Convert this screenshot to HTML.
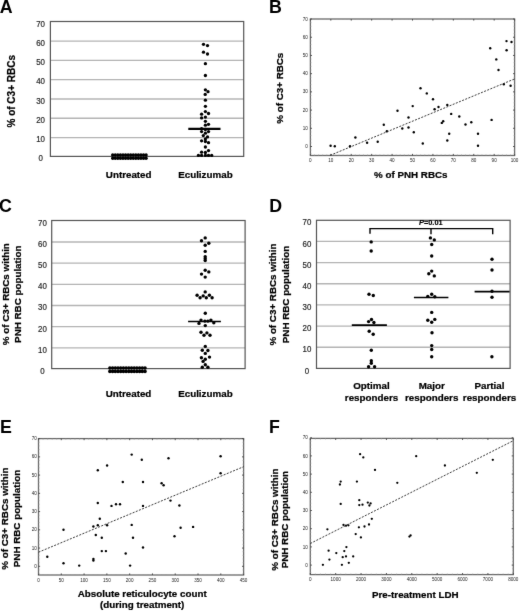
<!DOCTYPE html>
<html><head><meta charset="utf-8"><style>
html,body{margin:0;padding:0;background:#fff;}
body{width:520px;height:611px;overflow:hidden;}
svg{display:block;font-family:"Liberation Sans", sans-serif;will-change:transform;}
</style></head><body>
<svg width="520" height="611" viewBox="0 0 520 611">
<defs><filter id="soft" filterUnits="userSpaceOnUse" x="0" y="0" width="520" height="611" color-interpolation-filters="sRGB"><feConvolveMatrix order="3" kernelMatrix="0.00524 0.06192 0.00524 0.06192 0.73137 0.06192 0.00524 0.06192 0.00524" edgeMode="duplicate"/></filter></defs>
<rect width="520" height="611" fill="#fff"/>
<g filter="url(#soft)">
<rect width="520" height="611" fill="#fff"/>
<text x="-0.30" y="12.70" font-size="17.8" text-anchor="start" font-weight="bold" fill="#000" >A</text>
<text x="269.10" y="12.80" font-size="17.8" text-anchor="start" font-weight="bold" fill="#000" >B</text>
<text x="-1.10" y="212.10" font-size="17.8" text-anchor="start" font-weight="bold" fill="#000" >C</text>
<text x="269.30" y="211.50" font-size="17.8" text-anchor="start" font-weight="bold" fill="#000" >D</text>
<text x="0.00" y="432.60" font-size="17.8" text-anchor="start" font-weight="bold" fill="#000" >E</text>
<text x="268.90" y="432.80" font-size="17.8" text-anchor="start" font-weight="bold" fill="#000" >F</text>
<line x1="50.40" y1="137.53" x2="243.70" y2="137.53" stroke="#b4b4b4" stroke-width="1.3" />
<line x1="50.40" y1="118.26" x2="243.70" y2="118.26" stroke="#b4b4b4" stroke-width="1.3" />
<line x1="50.40" y1="98.99" x2="243.70" y2="98.99" stroke="#b4b4b4" stroke-width="1.3" />
<line x1="50.40" y1="79.71" x2="243.70" y2="79.71" stroke="#b4b4b4" stroke-width="1.3" />
<line x1="50.40" y1="60.44" x2="243.70" y2="60.44" stroke="#b4b4b4" stroke-width="1.3" />
<line x1="50.40" y1="41.17" x2="243.70" y2="41.17" stroke="#b4b4b4" stroke-width="1.3" />
<rect x="50.40" y="21.50" width="193.30" height="134.90" fill="none" stroke="#555" stroke-width="1.2"/>
<text transform="translate(40.60 161.40) scale(0.92 1)" font-size="8.6" text-anchor="middle" fill="#222" stroke="#333" stroke-width="0.2">0</text>
<text transform="translate(40.60 142.13) scale(0.92 1)" font-size="8.6" text-anchor="middle" fill="#222" stroke="#333" stroke-width="0.2">10</text>
<text transform="translate(40.60 122.86) scale(0.92 1)" font-size="8.6" text-anchor="middle" fill="#222" stroke="#333" stroke-width="0.2">20</text>
<text transform="translate(40.60 103.59) scale(0.92 1)" font-size="8.6" text-anchor="middle" fill="#222" stroke="#333" stroke-width="0.2">30</text>
<text transform="translate(40.60 84.31) scale(0.92 1)" font-size="8.6" text-anchor="middle" fill="#222" stroke="#333" stroke-width="0.2">40</text>
<text transform="translate(40.60 65.04) scale(0.92 1)" font-size="8.6" text-anchor="middle" fill="#222" stroke="#333" stroke-width="0.2">50</text>
<text transform="translate(40.60 45.77) scale(0.92 1)" font-size="8.6" text-anchor="middle" fill="#222" stroke="#333" stroke-width="0.2">60</text>
<text transform="translate(40.60 26.50) scale(0.92 1)" font-size="8.6" text-anchor="middle" fill="#222" stroke="#333" stroke-width="0.2">70</text>
<circle cx="112.70" cy="155.00" r="1.7"/>
<circle cx="115.27" cy="155.00" r="1.7"/>
<circle cx="117.84" cy="155.00" r="1.7"/>
<circle cx="120.41" cy="155.00" r="1.7"/>
<circle cx="122.98" cy="155.00" r="1.7"/>
<circle cx="125.55" cy="155.00" r="1.7"/>
<circle cx="128.12" cy="155.00" r="1.7"/>
<circle cx="130.68" cy="155.00" r="1.7"/>
<circle cx="133.25" cy="155.00" r="1.7"/>
<circle cx="135.82" cy="155.00" r="1.7"/>
<circle cx="138.39" cy="155.00" r="1.7"/>
<circle cx="140.96" cy="155.00" r="1.7"/>
<circle cx="143.53" cy="155.00" r="1.7"/>
<circle cx="146.10" cy="155.00" r="1.7"/>
<circle cx="112.70" cy="158.30" r="1.7"/>
<circle cx="115.27" cy="158.30" r="1.7"/>
<circle cx="117.84" cy="158.30" r="1.7"/>
<circle cx="120.41" cy="158.30" r="1.7"/>
<circle cx="122.98" cy="158.30" r="1.7"/>
<circle cx="125.55" cy="158.30" r="1.7"/>
<circle cx="128.12" cy="158.30" r="1.7"/>
<circle cx="130.68" cy="158.30" r="1.7"/>
<circle cx="133.25" cy="158.30" r="1.7"/>
<circle cx="135.82" cy="158.30" r="1.7"/>
<circle cx="138.39" cy="158.30" r="1.7"/>
<circle cx="140.96" cy="158.30" r="1.7"/>
<circle cx="143.53" cy="158.30" r="1.7"/>
<circle cx="146.10" cy="158.30" r="1.7"/>
<circle cx="203.50" cy="44.30" r="1.65"/>
<circle cx="207.50" cy="45.60" r="1.65"/>
<circle cx="203.50" cy="52.20" r="1.65"/>
<circle cx="207.50" cy="54.00" r="1.65"/>
<circle cx="205.40" cy="63.70" r="1.65"/>
<circle cx="205.40" cy="75.50" r="1.65"/>
<circle cx="205.40" cy="89.80" r="1.65"/>
<circle cx="208.00" cy="91.70" r="1.65"/>
<circle cx="205.20" cy="94.40" r="1.65"/>
<circle cx="205.40" cy="100.20" r="1.65"/>
<circle cx="205.40" cy="106.30" r="1.65"/>
<circle cx="205.40" cy="111.60" r="1.65"/>
<circle cx="208.50" cy="113.50" r="1.65"/>
<circle cx="201.60" cy="114.20" r="1.65"/>
<circle cx="201.60" cy="117.90" r="1.65"/>
<circle cx="205.40" cy="117.10" r="1.65"/>
<circle cx="205.40" cy="121.30" r="1.65"/>
<circle cx="208.50" cy="124.30" r="1.65"/>
<circle cx="205.40" cy="125.20" r="1.65"/>
<circle cx="201.60" cy="128.60" r="1.65"/>
<circle cx="205.40" cy="129.50" r="1.65"/>
<circle cx="201.60" cy="131.60" r="1.65"/>
<circle cx="208.50" cy="131.60" r="1.65"/>
<circle cx="205.40" cy="133.20" r="1.65"/>
<circle cx="203.30" cy="135.60" r="1.65"/>
<circle cx="207.50" cy="136.90" r="1.65"/>
<circle cx="205.40" cy="139.00" r="1.65"/>
<circle cx="201.60" cy="140.80" r="1.65"/>
<circle cx="205.40" cy="141.50" r="1.65"/>
<circle cx="208.50" cy="142.70" r="1.65"/>
<circle cx="205.40" cy="147.00" r="1.65"/>
<circle cx="208.50" cy="150.60" r="1.65"/>
<circle cx="201.60" cy="152.20" r="1.65"/>
<circle cx="205.40" cy="152.50" r="1.65"/>
<circle cx="198.40" cy="155.40" r="1.65"/>
<circle cx="201.60" cy="155.40" r="1.65"/>
<circle cx="205.40" cy="155.40" r="1.65"/>
<circle cx="208.50" cy="155.40" r="1.65"/>
<circle cx="211.70" cy="155.40" r="1.65"/>
<line x1="188.30" y1="128.90" x2="220.50" y2="128.90" stroke="#000" stroke-width="2.2" />
<text x="128.70" y="178.00" font-size="9.8" text-anchor="middle" font-weight="bold" fill="#000" stroke="#000" stroke-width="0.22">Untreated</text>
<text x="205.40" y="178.00" font-size="9.8" text-anchor="middle" font-weight="bold" fill="#000" stroke="#000" stroke-width="0.22">Eculizumab</text>
<text x="14.90" y="91.30" font-size="10.0" text-anchor="middle" font-weight="bold" fill="#000" transform="rotate(-90 14.90 91.30)" stroke="#000" stroke-width="0.22">% of C3+ RBCs</text>
<rect x="310.40" y="19.00" width="204.20" height="136.50" fill="none" stroke="#6a6a6a" stroke-width="1.3"/>
<line x1="310.40" y1="146.50" x2="312.00" y2="146.50" stroke="#444" stroke-width="0.9" />
<line x1="513.00" y1="146.50" x2="514.60" y2="146.50" stroke="#444" stroke-width="0.9" />
<text x="307.90" y="148.10" font-size="4.6" text-anchor="end" font-weight="normal" fill="#222" >0</text>
<line x1="310.40" y1="128.29" x2="312.00" y2="128.29" stroke="#444" stroke-width="0.9" />
<line x1="513.00" y1="128.29" x2="514.60" y2="128.29" stroke="#444" stroke-width="0.9" />
<text x="307.90" y="129.89" font-size="4.6" text-anchor="end" font-weight="normal" fill="#222" >10</text>
<line x1="310.40" y1="110.08" x2="312.00" y2="110.08" stroke="#444" stroke-width="0.9" />
<line x1="513.00" y1="110.08" x2="514.60" y2="110.08" stroke="#444" stroke-width="0.9" />
<text x="307.90" y="111.68" font-size="4.6" text-anchor="end" font-weight="normal" fill="#222" >20</text>
<line x1="310.40" y1="91.87" x2="312.00" y2="91.87" stroke="#444" stroke-width="0.9" />
<line x1="513.00" y1="91.87" x2="514.60" y2="91.87" stroke="#444" stroke-width="0.9" />
<text x="307.90" y="93.47" font-size="4.6" text-anchor="end" font-weight="normal" fill="#222" >30</text>
<line x1="310.40" y1="73.66" x2="312.00" y2="73.66" stroke="#444" stroke-width="0.9" />
<line x1="513.00" y1="73.66" x2="514.60" y2="73.66" stroke="#444" stroke-width="0.9" />
<text x="307.90" y="75.26" font-size="4.6" text-anchor="end" font-weight="normal" fill="#222" >40</text>
<line x1="310.40" y1="55.45" x2="312.00" y2="55.45" stroke="#444" stroke-width="0.9" />
<line x1="513.00" y1="55.45" x2="514.60" y2="55.45" stroke="#444" stroke-width="0.9" />
<text x="307.90" y="57.05" font-size="4.6" text-anchor="end" font-weight="normal" fill="#222" >50</text>
<line x1="310.40" y1="37.24" x2="312.00" y2="37.24" stroke="#444" stroke-width="0.9" />
<line x1="513.00" y1="37.24" x2="514.60" y2="37.24" stroke="#444" stroke-width="0.9" />
<text x="307.90" y="38.84" font-size="4.6" text-anchor="end" font-weight="normal" fill="#222" >60</text>
<line x1="310.40" y1="19.03" x2="312.00" y2="19.03" stroke="#444" stroke-width="0.9" />
<line x1="513.00" y1="19.03" x2="514.60" y2="19.03" stroke="#444" stroke-width="0.9" />
<text x="307.90" y="20.63" font-size="4.6" text-anchor="end" font-weight="normal" fill="#222" >70</text>
<line x1="310.40" y1="155.50" x2="310.40" y2="153.90" stroke="#444" stroke-width="0.9" />
<line x1="310.40" y1="19.00" x2="310.40" y2="20.60" stroke="#444" stroke-width="0.9" />
<text x="310.40" y="162.40" font-size="4.6" text-anchor="middle" font-weight="normal" fill="#222" >0</text>
<line x1="330.82" y1="155.50" x2="330.82" y2="153.90" stroke="#444" stroke-width="0.9" />
<line x1="330.82" y1="19.00" x2="330.82" y2="20.60" stroke="#444" stroke-width="0.9" />
<text x="330.82" y="162.40" font-size="4.6" text-anchor="middle" font-weight="normal" fill="#222" >10</text>
<line x1="351.24" y1="155.50" x2="351.24" y2="153.90" stroke="#444" stroke-width="0.9" />
<line x1="351.24" y1="19.00" x2="351.24" y2="20.60" stroke="#444" stroke-width="0.9" />
<text x="351.24" y="162.40" font-size="4.6" text-anchor="middle" font-weight="normal" fill="#222" >20</text>
<line x1="371.66" y1="155.50" x2="371.66" y2="153.90" stroke="#444" stroke-width="0.9" />
<line x1="371.66" y1="19.00" x2="371.66" y2="20.60" stroke="#444" stroke-width="0.9" />
<text x="371.66" y="162.40" font-size="4.6" text-anchor="middle" font-weight="normal" fill="#222" >30</text>
<line x1="392.08" y1="155.50" x2="392.08" y2="153.90" stroke="#444" stroke-width="0.9" />
<line x1="392.08" y1="19.00" x2="392.08" y2="20.60" stroke="#444" stroke-width="0.9" />
<text x="392.08" y="162.40" font-size="4.6" text-anchor="middle" font-weight="normal" fill="#222" >40</text>
<line x1="412.50" y1="155.50" x2="412.50" y2="153.90" stroke="#444" stroke-width="0.9" />
<line x1="412.50" y1="19.00" x2="412.50" y2="20.60" stroke="#444" stroke-width="0.9" />
<text x="412.50" y="162.40" font-size="4.6" text-anchor="middle" font-weight="normal" fill="#222" >50</text>
<line x1="432.92" y1="155.50" x2="432.92" y2="153.90" stroke="#444" stroke-width="0.9" />
<line x1="432.92" y1="19.00" x2="432.92" y2="20.60" stroke="#444" stroke-width="0.9" />
<text x="432.92" y="162.40" font-size="4.6" text-anchor="middle" font-weight="normal" fill="#222" >60</text>
<line x1="453.34" y1="155.50" x2="453.34" y2="153.90" stroke="#444" stroke-width="0.9" />
<line x1="453.34" y1="19.00" x2="453.34" y2="20.60" stroke="#444" stroke-width="0.9" />
<text x="453.34" y="162.40" font-size="4.6" text-anchor="middle" font-weight="normal" fill="#222" >70</text>
<line x1="473.76" y1="155.50" x2="473.76" y2="153.90" stroke="#444" stroke-width="0.9" />
<line x1="473.76" y1="19.00" x2="473.76" y2="20.60" stroke="#444" stroke-width="0.9" />
<text x="473.76" y="162.40" font-size="4.6" text-anchor="middle" font-weight="normal" fill="#222" >80</text>
<line x1="494.18" y1="155.50" x2="494.18" y2="153.90" stroke="#444" stroke-width="0.9" />
<line x1="494.18" y1="19.00" x2="494.18" y2="20.60" stroke="#444" stroke-width="0.9" />
<text x="494.18" y="162.40" font-size="4.6" text-anchor="middle" font-weight="normal" fill="#222" >90</text>
<line x1="514.60" y1="155.50" x2="514.60" y2="153.90" stroke="#444" stroke-width="0.9" />
<line x1="514.60" y1="19.00" x2="514.60" y2="20.60" stroke="#444" stroke-width="0.9" />
<text x="514.60" y="162.40" font-size="4.6" text-anchor="middle" font-weight="normal" fill="#222" >100</text>
<circle cx="330.60" cy="145.80" r="1.2"/>
<circle cx="334.80" cy="146.20" r="1.2"/>
<circle cx="350.00" cy="146.30" r="1.2"/>
<circle cx="355.40" cy="137.50" r="1.2"/>
<circle cx="367.10" cy="142.70" r="1.2"/>
<circle cx="377.70" cy="141.70" r="1.2"/>
<circle cx="383.80" cy="124.80" r="1.2"/>
<circle cx="386.90" cy="131.30" r="1.2"/>
<circle cx="397.50" cy="110.80" r="1.2"/>
<circle cx="402.30" cy="128.50" r="1.2"/>
<circle cx="408.50" cy="117.50" r="1.2"/>
<circle cx="408.50" cy="127.50" r="1.2"/>
<circle cx="412.70" cy="106.10" r="1.2"/>
<circle cx="413.80" cy="132.20" r="1.2"/>
<circle cx="420.50" cy="88.30" r="1.2"/>
<circle cx="422.80" cy="143.50" r="1.2"/>
<circle cx="426.80" cy="93.40" r="1.2"/>
<circle cx="433.00" cy="99.20" r="1.2"/>
<circle cx="434.60" cy="109.30" r="1.2"/>
<circle cx="438.50" cy="107.00" r="1.2"/>
<circle cx="441.80" cy="122.90" r="1.2"/>
<circle cx="443.20" cy="121.30" r="1.2"/>
<circle cx="447.30" cy="104.90" r="1.2"/>
<circle cx="447.30" cy="140.50" r="1.2"/>
<circle cx="449.20" cy="133.80" r="1.2"/>
<circle cx="451.20" cy="113.90" r="1.2"/>
<circle cx="459.30" cy="116.50" r="1.2"/>
<circle cx="465.50" cy="124.50" r="1.2"/>
<circle cx="471.30" cy="122.20" r="1.2"/>
<circle cx="478.00" cy="133.80" r="1.2"/>
<circle cx="478.00" cy="145.80" r="1.2"/>
<circle cx="491.60" cy="119.90" r="1.2"/>
<circle cx="506.50" cy="41.10" r="1.2"/>
<circle cx="511.50" cy="42.00" r="1.2"/>
<circle cx="490.20" cy="48.30" r="1.2"/>
<circle cx="506.60" cy="50.20" r="1.2"/>
<circle cx="496.30" cy="59.40" r="1.2"/>
<circle cx="498.50" cy="70.00" r="1.2"/>
<circle cx="503.80" cy="84.20" r="1.2"/>
<circle cx="510.60" cy="85.80" r="1.2"/>
<line x1="310.40" y1="153.78" x2="311.40" y2="153.78" stroke="#999" stroke-width="0.7" />
<line x1="513.60" y1="153.78" x2="514.60" y2="153.78" stroke="#999" stroke-width="0.7" />
<line x1="310.40" y1="150.14" x2="311.40" y2="150.14" stroke="#999" stroke-width="0.7" />
<line x1="513.60" y1="150.14" x2="514.60" y2="150.14" stroke="#999" stroke-width="0.7" />
<line x1="310.40" y1="142.86" x2="311.40" y2="142.86" stroke="#999" stroke-width="0.7" />
<line x1="513.60" y1="142.86" x2="514.60" y2="142.86" stroke="#999" stroke-width="0.7" />
<line x1="310.40" y1="139.22" x2="311.40" y2="139.22" stroke="#999" stroke-width="0.7" />
<line x1="513.60" y1="139.22" x2="514.60" y2="139.22" stroke="#999" stroke-width="0.7" />
<line x1="310.40" y1="135.57" x2="311.40" y2="135.57" stroke="#999" stroke-width="0.7" />
<line x1="513.60" y1="135.57" x2="514.60" y2="135.57" stroke="#999" stroke-width="0.7" />
<line x1="310.40" y1="131.93" x2="311.40" y2="131.93" stroke="#999" stroke-width="0.7" />
<line x1="513.60" y1="131.93" x2="514.60" y2="131.93" stroke="#999" stroke-width="0.7" />
<line x1="310.40" y1="124.65" x2="311.40" y2="124.65" stroke="#999" stroke-width="0.7" />
<line x1="513.60" y1="124.65" x2="514.60" y2="124.65" stroke="#999" stroke-width="0.7" />
<line x1="310.40" y1="121.01" x2="311.40" y2="121.01" stroke="#999" stroke-width="0.7" />
<line x1="513.60" y1="121.01" x2="514.60" y2="121.01" stroke="#999" stroke-width="0.7" />
<line x1="310.40" y1="117.36" x2="311.40" y2="117.36" stroke="#999" stroke-width="0.7" />
<line x1="513.60" y1="117.36" x2="514.60" y2="117.36" stroke="#999" stroke-width="0.7" />
<line x1="310.40" y1="113.72" x2="311.40" y2="113.72" stroke="#999" stroke-width="0.7" />
<line x1="513.60" y1="113.72" x2="514.60" y2="113.72" stroke="#999" stroke-width="0.7" />
<line x1="310.40" y1="106.44" x2="311.40" y2="106.44" stroke="#999" stroke-width="0.7" />
<line x1="513.60" y1="106.44" x2="514.60" y2="106.44" stroke="#999" stroke-width="0.7" />
<line x1="310.40" y1="102.80" x2="311.40" y2="102.80" stroke="#999" stroke-width="0.7" />
<line x1="513.60" y1="102.80" x2="514.60" y2="102.80" stroke="#999" stroke-width="0.7" />
<line x1="310.40" y1="99.15" x2="311.40" y2="99.15" stroke="#999" stroke-width="0.7" />
<line x1="513.60" y1="99.15" x2="514.60" y2="99.15" stroke="#999" stroke-width="0.7" />
<line x1="310.40" y1="95.51" x2="311.40" y2="95.51" stroke="#999" stroke-width="0.7" />
<line x1="513.60" y1="95.51" x2="514.60" y2="95.51" stroke="#999" stroke-width="0.7" />
<line x1="310.40" y1="88.23" x2="311.40" y2="88.23" stroke="#999" stroke-width="0.7" />
<line x1="513.60" y1="88.23" x2="514.60" y2="88.23" stroke="#999" stroke-width="0.7" />
<line x1="310.40" y1="84.59" x2="311.40" y2="84.59" stroke="#999" stroke-width="0.7" />
<line x1="513.60" y1="84.59" x2="514.60" y2="84.59" stroke="#999" stroke-width="0.7" />
<line x1="310.40" y1="80.94" x2="311.40" y2="80.94" stroke="#999" stroke-width="0.7" />
<line x1="513.60" y1="80.94" x2="514.60" y2="80.94" stroke="#999" stroke-width="0.7" />
<line x1="310.40" y1="77.30" x2="311.40" y2="77.30" stroke="#999" stroke-width="0.7" />
<line x1="513.60" y1="77.30" x2="514.60" y2="77.30" stroke="#999" stroke-width="0.7" />
<line x1="310.40" y1="70.02" x2="311.40" y2="70.02" stroke="#999" stroke-width="0.7" />
<line x1="513.60" y1="70.02" x2="514.60" y2="70.02" stroke="#999" stroke-width="0.7" />
<line x1="310.40" y1="66.38" x2="311.40" y2="66.38" stroke="#999" stroke-width="0.7" />
<line x1="513.60" y1="66.38" x2="514.60" y2="66.38" stroke="#999" stroke-width="0.7" />
<line x1="310.40" y1="62.73" x2="311.40" y2="62.73" stroke="#999" stroke-width="0.7" />
<line x1="513.60" y1="62.73" x2="514.60" y2="62.73" stroke="#999" stroke-width="0.7" />
<line x1="310.40" y1="59.09" x2="311.40" y2="59.09" stroke="#999" stroke-width="0.7" />
<line x1="513.60" y1="59.09" x2="514.60" y2="59.09" stroke="#999" stroke-width="0.7" />
<line x1="310.40" y1="51.81" x2="311.40" y2="51.81" stroke="#999" stroke-width="0.7" />
<line x1="513.60" y1="51.81" x2="514.60" y2="51.81" stroke="#999" stroke-width="0.7" />
<line x1="310.40" y1="48.17" x2="311.40" y2="48.17" stroke="#999" stroke-width="0.7" />
<line x1="513.60" y1="48.17" x2="514.60" y2="48.17" stroke="#999" stroke-width="0.7" />
<line x1="310.40" y1="44.52" x2="311.40" y2="44.52" stroke="#999" stroke-width="0.7" />
<line x1="513.60" y1="44.52" x2="514.60" y2="44.52" stroke="#999" stroke-width="0.7" />
<line x1="310.40" y1="40.88" x2="311.40" y2="40.88" stroke="#999" stroke-width="0.7" />
<line x1="513.60" y1="40.88" x2="514.60" y2="40.88" stroke="#999" stroke-width="0.7" />
<line x1="310.40" y1="33.60" x2="311.40" y2="33.60" stroke="#999" stroke-width="0.7" />
<line x1="513.60" y1="33.60" x2="514.60" y2="33.60" stroke="#999" stroke-width="0.7" />
<line x1="310.40" y1="29.96" x2="311.40" y2="29.96" stroke="#999" stroke-width="0.7" />
<line x1="513.60" y1="29.96" x2="514.60" y2="29.96" stroke="#999" stroke-width="0.7" />
<line x1="310.40" y1="26.31" x2="311.40" y2="26.31" stroke="#999" stroke-width="0.7" />
<line x1="513.60" y1="26.31" x2="514.60" y2="26.31" stroke="#999" stroke-width="0.7" />
<line x1="310.40" y1="22.67" x2="311.40" y2="22.67" stroke="#999" stroke-width="0.7" />
<line x1="513.60" y1="22.67" x2="514.60" y2="22.67" stroke="#999" stroke-width="0.7" />
<line x1="314.48" y1="155.50" x2="314.48" y2="154.50" stroke="#999" stroke-width="0.7" />
<line x1="314.48" y1="19.00" x2="314.48" y2="20.00" stroke="#999" stroke-width="0.7" />
<line x1="318.57" y1="155.50" x2="318.57" y2="154.50" stroke="#999" stroke-width="0.7" />
<line x1="318.57" y1="19.00" x2="318.57" y2="20.00" stroke="#999" stroke-width="0.7" />
<line x1="322.65" y1="155.50" x2="322.65" y2="154.50" stroke="#999" stroke-width="0.7" />
<line x1="322.65" y1="19.00" x2="322.65" y2="20.00" stroke="#999" stroke-width="0.7" />
<line x1="326.74" y1="155.50" x2="326.74" y2="154.50" stroke="#999" stroke-width="0.7" />
<line x1="326.74" y1="19.00" x2="326.74" y2="20.00" stroke="#999" stroke-width="0.7" />
<line x1="334.90" y1="155.50" x2="334.90" y2="154.50" stroke="#999" stroke-width="0.7" />
<line x1="334.90" y1="19.00" x2="334.90" y2="20.00" stroke="#999" stroke-width="0.7" />
<line x1="338.99" y1="155.50" x2="338.99" y2="154.50" stroke="#999" stroke-width="0.7" />
<line x1="338.99" y1="19.00" x2="338.99" y2="20.00" stroke="#999" stroke-width="0.7" />
<line x1="343.07" y1="155.50" x2="343.07" y2="154.50" stroke="#999" stroke-width="0.7" />
<line x1="343.07" y1="19.00" x2="343.07" y2="20.00" stroke="#999" stroke-width="0.7" />
<line x1="347.16" y1="155.50" x2="347.16" y2="154.50" stroke="#999" stroke-width="0.7" />
<line x1="347.16" y1="19.00" x2="347.16" y2="20.00" stroke="#999" stroke-width="0.7" />
<line x1="355.32" y1="155.50" x2="355.32" y2="154.50" stroke="#999" stroke-width="0.7" />
<line x1="355.32" y1="19.00" x2="355.32" y2="20.00" stroke="#999" stroke-width="0.7" />
<line x1="359.41" y1="155.50" x2="359.41" y2="154.50" stroke="#999" stroke-width="0.7" />
<line x1="359.41" y1="19.00" x2="359.41" y2="20.00" stroke="#999" stroke-width="0.7" />
<line x1="363.49" y1="155.50" x2="363.49" y2="154.50" stroke="#999" stroke-width="0.7" />
<line x1="363.49" y1="19.00" x2="363.49" y2="20.00" stroke="#999" stroke-width="0.7" />
<line x1="367.58" y1="155.50" x2="367.58" y2="154.50" stroke="#999" stroke-width="0.7" />
<line x1="367.58" y1="19.00" x2="367.58" y2="20.00" stroke="#999" stroke-width="0.7" />
<line x1="375.74" y1="155.50" x2="375.74" y2="154.50" stroke="#999" stroke-width="0.7" />
<line x1="375.74" y1="19.00" x2="375.74" y2="20.00" stroke="#999" stroke-width="0.7" />
<line x1="379.83" y1="155.50" x2="379.83" y2="154.50" stroke="#999" stroke-width="0.7" />
<line x1="379.83" y1="19.00" x2="379.83" y2="20.00" stroke="#999" stroke-width="0.7" />
<line x1="383.91" y1="155.50" x2="383.91" y2="154.50" stroke="#999" stroke-width="0.7" />
<line x1="383.91" y1="19.00" x2="383.91" y2="20.00" stroke="#999" stroke-width="0.7" />
<line x1="388.00" y1="155.50" x2="388.00" y2="154.50" stroke="#999" stroke-width="0.7" />
<line x1="388.00" y1="19.00" x2="388.00" y2="20.00" stroke="#999" stroke-width="0.7" />
<line x1="396.16" y1="155.50" x2="396.16" y2="154.50" stroke="#999" stroke-width="0.7" />
<line x1="396.16" y1="19.00" x2="396.16" y2="20.00" stroke="#999" stroke-width="0.7" />
<line x1="400.25" y1="155.50" x2="400.25" y2="154.50" stroke="#999" stroke-width="0.7" />
<line x1="400.25" y1="19.00" x2="400.25" y2="20.00" stroke="#999" stroke-width="0.7" />
<line x1="404.33" y1="155.50" x2="404.33" y2="154.50" stroke="#999" stroke-width="0.7" />
<line x1="404.33" y1="19.00" x2="404.33" y2="20.00" stroke="#999" stroke-width="0.7" />
<line x1="408.42" y1="155.50" x2="408.42" y2="154.50" stroke="#999" stroke-width="0.7" />
<line x1="408.42" y1="19.00" x2="408.42" y2="20.00" stroke="#999" stroke-width="0.7" />
<line x1="416.58" y1="155.50" x2="416.58" y2="154.50" stroke="#999" stroke-width="0.7" />
<line x1="416.58" y1="19.00" x2="416.58" y2="20.00" stroke="#999" stroke-width="0.7" />
<line x1="420.67" y1="155.50" x2="420.67" y2="154.50" stroke="#999" stroke-width="0.7" />
<line x1="420.67" y1="19.00" x2="420.67" y2="20.00" stroke="#999" stroke-width="0.7" />
<line x1="424.75" y1="155.50" x2="424.75" y2="154.50" stroke="#999" stroke-width="0.7" />
<line x1="424.75" y1="19.00" x2="424.75" y2="20.00" stroke="#999" stroke-width="0.7" />
<line x1="428.84" y1="155.50" x2="428.84" y2="154.50" stroke="#999" stroke-width="0.7" />
<line x1="428.84" y1="19.00" x2="428.84" y2="20.00" stroke="#999" stroke-width="0.7" />
<line x1="437.00" y1="155.50" x2="437.00" y2="154.50" stroke="#999" stroke-width="0.7" />
<line x1="437.00" y1="19.00" x2="437.00" y2="20.00" stroke="#999" stroke-width="0.7" />
<line x1="441.09" y1="155.50" x2="441.09" y2="154.50" stroke="#999" stroke-width="0.7" />
<line x1="441.09" y1="19.00" x2="441.09" y2="20.00" stroke="#999" stroke-width="0.7" />
<line x1="445.17" y1="155.50" x2="445.17" y2="154.50" stroke="#999" stroke-width="0.7" />
<line x1="445.17" y1="19.00" x2="445.17" y2="20.00" stroke="#999" stroke-width="0.7" />
<line x1="449.26" y1="155.50" x2="449.26" y2="154.50" stroke="#999" stroke-width="0.7" />
<line x1="449.26" y1="19.00" x2="449.26" y2="20.00" stroke="#999" stroke-width="0.7" />
<line x1="457.42" y1="155.50" x2="457.42" y2="154.50" stroke="#999" stroke-width="0.7" />
<line x1="457.42" y1="19.00" x2="457.42" y2="20.00" stroke="#999" stroke-width="0.7" />
<line x1="461.51" y1="155.50" x2="461.51" y2="154.50" stroke="#999" stroke-width="0.7" />
<line x1="461.51" y1="19.00" x2="461.51" y2="20.00" stroke="#999" stroke-width="0.7" />
<line x1="465.59" y1="155.50" x2="465.59" y2="154.50" stroke="#999" stroke-width="0.7" />
<line x1="465.59" y1="19.00" x2="465.59" y2="20.00" stroke="#999" stroke-width="0.7" />
<line x1="469.68" y1="155.50" x2="469.68" y2="154.50" stroke="#999" stroke-width="0.7" />
<line x1="469.68" y1="19.00" x2="469.68" y2="20.00" stroke="#999" stroke-width="0.7" />
<line x1="477.84" y1="155.50" x2="477.84" y2="154.50" stroke="#999" stroke-width="0.7" />
<line x1="477.84" y1="19.00" x2="477.84" y2="20.00" stroke="#999" stroke-width="0.7" />
<line x1="481.93" y1="155.50" x2="481.93" y2="154.50" stroke="#999" stroke-width="0.7" />
<line x1="481.93" y1="19.00" x2="481.93" y2="20.00" stroke="#999" stroke-width="0.7" />
<line x1="486.01" y1="155.50" x2="486.01" y2="154.50" stroke="#999" stroke-width="0.7" />
<line x1="486.01" y1="19.00" x2="486.01" y2="20.00" stroke="#999" stroke-width="0.7" />
<line x1="490.10" y1="155.50" x2="490.10" y2="154.50" stroke="#999" stroke-width="0.7" />
<line x1="490.10" y1="19.00" x2="490.10" y2="20.00" stroke="#999" stroke-width="0.7" />
<line x1="498.26" y1="155.50" x2="498.26" y2="154.50" stroke="#999" stroke-width="0.7" />
<line x1="498.26" y1="19.00" x2="498.26" y2="20.00" stroke="#999" stroke-width="0.7" />
<line x1="502.35" y1="155.50" x2="502.35" y2="154.50" stroke="#999" stroke-width="0.7" />
<line x1="502.35" y1="19.00" x2="502.35" y2="20.00" stroke="#999" stroke-width="0.7" />
<line x1="506.43" y1="155.50" x2="506.43" y2="154.50" stroke="#999" stroke-width="0.7" />
<line x1="506.43" y1="19.00" x2="506.43" y2="20.00" stroke="#999" stroke-width="0.7" />
<line x1="510.52" y1="155.50" x2="510.52" y2="154.50" stroke="#999" stroke-width="0.7" />
<line x1="510.52" y1="19.00" x2="510.52" y2="20.00" stroke="#999" stroke-width="0.7" />
<line x1="330.20" y1="155.30" x2="514.40" y2="79.00" stroke="#222" stroke-width="0.9" stroke-dasharray="2 1.4"/>
<text x="283.10" y="88.20" font-size="9.8" text-anchor="middle" font-weight="bold" fill="#000" transform="rotate(-90 283.10 88.20)" stroke="#000" stroke-width="0.22">% of C3+ RBCs</text>
<text x="410.80" y="178.00" font-size="9.8" text-anchor="middle" font-weight="bold" fill="#000" stroke="#000" stroke-width="0.22">% of PNH RBCs</text>
<line x1="51.70" y1="347.79" x2="245.10" y2="347.79" stroke="#b4b4b4" stroke-width="1.3" />
<line x1="51.70" y1="326.64" x2="245.10" y2="326.64" stroke="#b4b4b4" stroke-width="1.3" />
<line x1="51.70" y1="305.48" x2="245.10" y2="305.48" stroke="#b4b4b4" stroke-width="1.3" />
<line x1="51.70" y1="284.32" x2="245.10" y2="284.32" stroke="#b4b4b4" stroke-width="1.3" />
<line x1="51.70" y1="263.16" x2="245.10" y2="263.16" stroke="#b4b4b4" stroke-width="1.3" />
<line x1="51.70" y1="242.01" x2="245.10" y2="242.01" stroke="#b4b4b4" stroke-width="1.3" />
<rect x="51.70" y="220.50" width="193.40" height="148.10" fill="none" stroke="#555" stroke-width="1.2"/>
<text transform="translate(42.40 373.90) scale(0.92 1)" font-size="8.6" text-anchor="middle" fill="#222" stroke="#333" stroke-width="0.2">0</text>
<text transform="translate(42.40 352.74) scale(0.92 1)" font-size="8.6" text-anchor="middle" fill="#222" stroke="#333" stroke-width="0.2">10</text>
<text transform="translate(42.40 331.59) scale(0.92 1)" font-size="8.6" text-anchor="middle" fill="#222" stroke="#333" stroke-width="0.2">20</text>
<text transform="translate(42.40 310.43) scale(0.92 1)" font-size="8.6" text-anchor="middle" fill="#222" stroke="#333" stroke-width="0.2">30</text>
<text transform="translate(42.40 289.27) scale(0.92 1)" font-size="8.6" text-anchor="middle" fill="#222" stroke="#333" stroke-width="0.2">40</text>
<text transform="translate(42.40 268.11) scale(0.92 1)" font-size="8.6" text-anchor="middle" fill="#222" stroke="#333" stroke-width="0.2">50</text>
<text transform="translate(42.40 246.96) scale(0.92 1)" font-size="8.6" text-anchor="middle" fill="#222" stroke="#333" stroke-width="0.2">60</text>
<text transform="translate(42.40 225.80) scale(0.92 1)" font-size="8.6" text-anchor="middle" fill="#222" stroke="#333" stroke-width="0.2">70</text>
<circle cx="109.90" cy="368.00" r="1.8"/>
<circle cx="112.60" cy="368.00" r="1.8"/>
<circle cx="115.30" cy="368.00" r="1.8"/>
<circle cx="118.00" cy="368.00" r="1.8"/>
<circle cx="120.70" cy="368.00" r="1.8"/>
<circle cx="123.40" cy="368.00" r="1.8"/>
<circle cx="126.10" cy="368.00" r="1.8"/>
<circle cx="128.80" cy="368.00" r="1.8"/>
<circle cx="131.50" cy="368.00" r="1.8"/>
<circle cx="134.20" cy="368.00" r="1.8"/>
<circle cx="136.90" cy="368.00" r="1.8"/>
<circle cx="139.60" cy="368.00" r="1.8"/>
<circle cx="142.30" cy="368.00" r="1.8"/>
<circle cx="145.00" cy="368.00" r="1.8"/>
<circle cx="109.90" cy="371.40" r="1.8"/>
<circle cx="112.60" cy="371.40" r="1.8"/>
<circle cx="115.30" cy="371.40" r="1.8"/>
<circle cx="118.00" cy="371.40" r="1.8"/>
<circle cx="120.70" cy="371.40" r="1.8"/>
<circle cx="123.40" cy="371.40" r="1.8"/>
<circle cx="126.10" cy="371.40" r="1.8"/>
<circle cx="128.80" cy="371.40" r="1.8"/>
<circle cx="131.50" cy="371.40" r="1.8"/>
<circle cx="134.20" cy="371.40" r="1.8"/>
<circle cx="136.90" cy="371.40" r="1.8"/>
<circle cx="139.60" cy="371.40" r="1.8"/>
<circle cx="142.30" cy="371.40" r="1.8"/>
<circle cx="145.00" cy="371.40" r="1.8"/>
<circle cx="205.20" cy="237.90" r="1.7"/>
<circle cx="201.50" cy="240.70" r="1.7"/>
<circle cx="208.80" cy="243.20" r="1.7"/>
<circle cx="205.20" cy="245.20" r="1.7"/>
<circle cx="205.20" cy="251.40" r="1.7"/>
<circle cx="205.20" cy="256.70" r="1.7"/>
<circle cx="205.20" cy="258.70" r="1.7"/>
<circle cx="205.20" cy="260.60" r="1.7"/>
<circle cx="205.20" cy="270.20" r="1.7"/>
<circle cx="208.80" cy="271.90" r="1.7"/>
<circle cx="201.50" cy="274.10" r="1.7"/>
<circle cx="205.20" cy="277.10" r="1.7"/>
<circle cx="205.20" cy="291.90" r="1.7"/>
<circle cx="197.10" cy="295.20" r="1.7"/>
<circle cx="200.10" cy="297.80" r="1.7"/>
<circle cx="203.20" cy="295.90" r="1.7"/>
<circle cx="206.30" cy="297.80" r="1.7"/>
<circle cx="209.40" cy="295.20" r="1.7"/>
<circle cx="212.10" cy="297.80" r="1.7"/>
<circle cx="205.30" cy="313.20" r="1.7"/>
<circle cx="201.00" cy="320.10" r="1.7"/>
<circle cx="204.90" cy="321.10" r="1.7"/>
<circle cx="207.90" cy="321.10" r="1.7"/>
<circle cx="210.90" cy="320.10" r="1.7"/>
<circle cx="199.00" cy="323.40" r="1.7"/>
<circle cx="213.80" cy="322.80" r="1.7"/>
<circle cx="205.30" cy="325.60" r="1.7"/>
<circle cx="201.00" cy="332.20" r="1.7"/>
<circle cx="206.90" cy="332.90" r="1.7"/>
<circle cx="204.00" cy="335.20" r="1.7"/>
<circle cx="210.00" cy="335.20" r="1.7"/>
<circle cx="205.30" cy="346.40" r="1.7"/>
<circle cx="202.30" cy="350.30" r="1.7"/>
<circle cx="207.90" cy="350.50" r="1.7"/>
<circle cx="205.30" cy="353.40" r="1.7"/>
<circle cx="201.40" cy="357.80" r="1.7"/>
<circle cx="209.50" cy="357.10" r="1.7"/>
<circle cx="205.30" cy="359.20" r="1.7"/>
<circle cx="203.10" cy="361.40" r="1.7"/>
<circle cx="205.30" cy="364.70" r="1.7"/>
<circle cx="202.30" cy="367.30" r="1.7"/>
<circle cx="207.90" cy="367.30" r="1.7"/>
<line x1="188.10" y1="321.50" x2="220.90" y2="321.50" stroke="#000" stroke-width="1.6" />
<text x="128.50" y="397.30" font-size="9.8" text-anchor="middle" font-weight="bold" fill="#000" stroke="#000" stroke-width="0.22">Untreated</text>
<text x="205.40" y="397.30" font-size="9.8" text-anchor="middle" font-weight="bold" fill="#000" stroke="#000" stroke-width="0.22">Eculizumab</text>
<text x="9.05" y="294.20" font-size="9.8" text-anchor="middle" font-weight="bold" fill="#000" transform="rotate(-90 9.05 294.20)" stroke="#000" stroke-width="0.22">% of C3+ RBCs within</text>
<text x="20.80" y="294.20" font-size="9.8" text-anchor="middle" font-weight="bold" fill="#000" transform="rotate(-90 20.80 294.20)" stroke="#000" stroke-width="0.22">PNH RBC population</text>
<line x1="316.50" y1="347.24" x2="510.10" y2="347.24" stroke="#b4b4b4" stroke-width="1.3" />
<line x1="316.50" y1="326.09" x2="510.10" y2="326.09" stroke="#b4b4b4" stroke-width="1.3" />
<line x1="316.50" y1="304.93" x2="510.10" y2="304.93" stroke="#b4b4b4" stroke-width="1.3" />
<line x1="316.50" y1="283.77" x2="510.10" y2="283.77" stroke="#b4b4b4" stroke-width="1.3" />
<line x1="316.50" y1="262.61" x2="510.10" y2="262.61" stroke="#b4b4b4" stroke-width="1.3" />
<line x1="316.50" y1="241.46" x2="510.10" y2="241.46" stroke="#b4b4b4" stroke-width="1.3" />
<rect x="316.50" y="220.30" width="193.60" height="148.10" fill="none" stroke="#555" stroke-width="1.2"/>
<text transform="translate(307.00 373.50) scale(0.92 1)" font-size="8.6" text-anchor="middle" fill="#222" stroke="#333" stroke-width="0.2">0</text>
<text transform="translate(307.00 352.34) scale(0.92 1)" font-size="8.6" text-anchor="middle" fill="#222" stroke="#333" stroke-width="0.2">10</text>
<text transform="translate(307.00 331.19) scale(0.92 1)" font-size="8.6" text-anchor="middle" fill="#222" stroke="#333" stroke-width="0.2">20</text>
<text transform="translate(307.00 310.03) scale(0.92 1)" font-size="8.6" text-anchor="middle" fill="#222" stroke="#333" stroke-width="0.2">30</text>
<text transform="translate(307.00 288.87) scale(0.92 1)" font-size="8.6" text-anchor="middle" fill="#222" stroke="#333" stroke-width="0.2">40</text>
<text transform="translate(307.00 267.71) scale(0.92 1)" font-size="8.6" text-anchor="middle" fill="#222" stroke="#333" stroke-width="0.2">50</text>
<text transform="translate(307.00 246.56) scale(0.92 1)" font-size="8.6" text-anchor="middle" fill="#222" stroke="#333" stroke-width="0.2">60</text>
<text transform="translate(307.00 225.40) scale(0.92 1)" font-size="8.6" text-anchor="middle" fill="#222" stroke="#333" stroke-width="0.2">70</text>
<circle cx="371.20" cy="241.90" r="1.7"/>
<circle cx="371.20" cy="251.00" r="1.7"/>
<circle cx="369.00" cy="294.30" r="1.7"/>
<circle cx="373.30" cy="295.50" r="1.7"/>
<circle cx="371.50" cy="319.50" r="1.7"/>
<circle cx="368.60" cy="321.60" r="1.7"/>
<circle cx="373.90" cy="322.50" r="1.7"/>
<circle cx="369.20" cy="331.30" r="1.7"/>
<circle cx="373.20" cy="334.30" r="1.7"/>
<circle cx="371.30" cy="350.20" r="1.7"/>
<circle cx="371.30" cy="360.80" r="1.7"/>
<circle cx="371.30" cy="363.30" r="1.7"/>
<circle cx="368.60" cy="366.70" r="1.7"/>
<circle cx="374.60" cy="366.70" r="1.7"/>
<circle cx="430.40" cy="237.90" r="1.7"/>
<circle cx="434.30" cy="239.90" r="1.7"/>
<circle cx="431.70" cy="244.50" r="1.7"/>
<circle cx="431.70" cy="256.00" r="1.7"/>
<circle cx="431.70" cy="271.10" r="1.7"/>
<circle cx="428.80" cy="273.70" r="1.7"/>
<circle cx="434.30" cy="275.90" r="1.7"/>
<circle cx="431.70" cy="294.30" r="1.7"/>
<circle cx="427.80" cy="296.40" r="1.7"/>
<circle cx="434.80" cy="296.80" r="1.7"/>
<circle cx="431.70" cy="312.40" r="1.7"/>
<circle cx="427.80" cy="320.20" r="1.7"/>
<circle cx="434.80" cy="319.40" r="1.7"/>
<circle cx="431.70" cy="322.30" r="1.7"/>
<circle cx="432.00" cy="332.80" r="1.7"/>
<circle cx="431.70" cy="345.60" r="1.7"/>
<circle cx="431.70" cy="349.50" r="1.7"/>
<circle cx="431.70" cy="356.70" r="1.7"/>
<circle cx="492.00" cy="259.30" r="1.7"/>
<circle cx="492.00" cy="270.00" r="1.7"/>
<circle cx="492.00" cy="291.30" r="1.7"/>
<circle cx="492.00" cy="297.20" r="1.7"/>
<circle cx="491.90" cy="356.80" r="1.7"/>
<line x1="351.80" y1="325.10" x2="386.90" y2="325.10" stroke="#000" stroke-width="1.6" />
<line x1="413.90" y1="297.50" x2="448.40" y2="297.50" stroke="#000" stroke-width="1.6" />
<line x1="474.60" y1="291.60" x2="509.60" y2="291.60" stroke="#000" stroke-width="1.6" />
<polyline points="370,233.8 370,228.6 492.7,228.6 492.7,234.2" fill="none" stroke="#000" stroke-width="1.4"/>
<line x1="431.00" y1="228.60" x2="431.00" y2="234.20" stroke="#000" stroke-width="1.4" />
<text x="430.8" y="225.3" font-size="7.4" text-anchor="middle" font-weight="bold" stroke="#000" stroke-width="0.15"><tspan font-style="italic">P</tspan>=0.01</text>
<text x="371.50" y="388.50" font-size="9.8" text-anchor="middle" font-weight="bold" fill="#000" stroke="#000" stroke-width="0.22">Optimal</text>
<text x="371.50" y="400.60" font-size="9.8" text-anchor="middle" font-weight="bold" fill="#000" stroke="#000" stroke-width="0.22">responders</text>
<text x="431.70" y="388.50" font-size="9.8" text-anchor="middle" font-weight="bold" fill="#000" stroke="#000" stroke-width="0.22">Major</text>
<text x="431.70" y="400.60" font-size="9.8" text-anchor="middle" font-weight="bold" fill="#000" stroke="#000" stroke-width="0.22">responders</text>
<text x="489.50" y="388.50" font-size="9.8" text-anchor="middle" font-weight="bold" fill="#000" stroke="#000" stroke-width="0.22">Partial</text>
<text x="489.50" y="400.60" font-size="9.8" text-anchor="middle" font-weight="bold" fill="#000" stroke="#000" stroke-width="0.22">responders</text>
<text x="276.20" y="294.50" font-size="9.8" text-anchor="middle" font-weight="bold" fill="#000" transform="rotate(-90 276.20 294.50)" stroke="#000" stroke-width="0.22">% of C3+ RBCs within</text>
<text x="288.60" y="294.50" font-size="9.8" text-anchor="middle" font-weight="bold" fill="#000" transform="rotate(-90 288.60 294.50)" stroke="#000" stroke-width="0.22">PNH RBC population</text>
<rect x="38.50" y="438.60" width="205.10" height="136.40" fill="none" stroke="#6a6a6a" stroke-width="1.3"/>
<line x1="38.50" y1="566.30" x2="40.10" y2="566.30" stroke="#444" stroke-width="0.9" />
<line x1="242.00" y1="566.30" x2="243.60" y2="566.30" stroke="#444" stroke-width="0.9" />
<text x="36.80" y="567.90" font-size="4.6" text-anchor="end" font-weight="normal" fill="#222" >0</text>
<line x1="38.50" y1="548.06" x2="40.10" y2="548.06" stroke="#444" stroke-width="0.9" />
<line x1="242.00" y1="548.06" x2="243.60" y2="548.06" stroke="#444" stroke-width="0.9" />
<text x="36.80" y="549.66" font-size="4.6" text-anchor="end" font-weight="normal" fill="#222" >10</text>
<line x1="38.50" y1="529.82" x2="40.10" y2="529.82" stroke="#444" stroke-width="0.9" />
<line x1="242.00" y1="529.82" x2="243.60" y2="529.82" stroke="#444" stroke-width="0.9" />
<text x="36.80" y="531.42" font-size="4.6" text-anchor="end" font-weight="normal" fill="#222" >20</text>
<line x1="38.50" y1="511.58" x2="40.10" y2="511.58" stroke="#444" stroke-width="0.9" />
<line x1="242.00" y1="511.58" x2="243.60" y2="511.58" stroke="#444" stroke-width="0.9" />
<text x="36.80" y="513.18" font-size="4.6" text-anchor="end" font-weight="normal" fill="#222" >30</text>
<line x1="38.50" y1="493.34" x2="40.10" y2="493.34" stroke="#444" stroke-width="0.9" />
<line x1="242.00" y1="493.34" x2="243.60" y2="493.34" stroke="#444" stroke-width="0.9" />
<text x="36.80" y="494.94" font-size="4.6" text-anchor="end" font-weight="normal" fill="#222" >40</text>
<line x1="38.50" y1="475.10" x2="40.10" y2="475.10" stroke="#444" stroke-width="0.9" />
<line x1="242.00" y1="475.10" x2="243.60" y2="475.10" stroke="#444" stroke-width="0.9" />
<text x="36.80" y="476.70" font-size="4.6" text-anchor="end" font-weight="normal" fill="#222" >50</text>
<line x1="38.50" y1="456.86" x2="40.10" y2="456.86" stroke="#444" stroke-width="0.9" />
<line x1="242.00" y1="456.86" x2="243.60" y2="456.86" stroke="#444" stroke-width="0.9" />
<text x="36.80" y="458.46" font-size="4.6" text-anchor="end" font-weight="normal" fill="#222" >60</text>
<line x1="38.50" y1="438.62" x2="40.10" y2="438.62" stroke="#444" stroke-width="0.9" />
<line x1="242.00" y1="438.62" x2="243.60" y2="438.62" stroke="#444" stroke-width="0.9" />
<text x="36.80" y="440.22" font-size="4.6" text-anchor="end" font-weight="normal" fill="#222" >70</text>
<line x1="38.50" y1="575.00" x2="38.50" y2="573.40" stroke="#444" stroke-width="0.9" />
<line x1="38.50" y1="438.60" x2="38.50" y2="440.20" stroke="#444" stroke-width="0.9" />
<text x="38.50" y="581.60" font-size="4.6" text-anchor="middle" font-weight="normal" fill="#222" >0</text>
<line x1="61.29" y1="575.00" x2="61.29" y2="573.40" stroke="#444" stroke-width="0.9" />
<line x1="61.29" y1="438.60" x2="61.29" y2="440.20" stroke="#444" stroke-width="0.9" />
<text x="61.29" y="581.60" font-size="4.6" text-anchor="middle" font-weight="normal" fill="#222" >50</text>
<line x1="84.08" y1="575.00" x2="84.08" y2="573.40" stroke="#444" stroke-width="0.9" />
<line x1="84.08" y1="438.60" x2="84.08" y2="440.20" stroke="#444" stroke-width="0.9" />
<text x="84.08" y="581.60" font-size="4.6" text-anchor="middle" font-weight="normal" fill="#222" >100</text>
<line x1="106.87" y1="575.00" x2="106.87" y2="573.40" stroke="#444" stroke-width="0.9" />
<line x1="106.87" y1="438.60" x2="106.87" y2="440.20" stroke="#444" stroke-width="0.9" />
<text x="106.87" y="581.60" font-size="4.6" text-anchor="middle" font-weight="normal" fill="#222" >150</text>
<line x1="129.66" y1="575.00" x2="129.66" y2="573.40" stroke="#444" stroke-width="0.9" />
<line x1="129.66" y1="438.60" x2="129.66" y2="440.20" stroke="#444" stroke-width="0.9" />
<text x="129.66" y="581.60" font-size="4.6" text-anchor="middle" font-weight="normal" fill="#222" >200</text>
<line x1="152.44" y1="575.00" x2="152.44" y2="573.40" stroke="#444" stroke-width="0.9" />
<line x1="152.44" y1="438.60" x2="152.44" y2="440.20" stroke="#444" stroke-width="0.9" />
<text x="152.44" y="581.60" font-size="4.6" text-anchor="middle" font-weight="normal" fill="#222" >250</text>
<line x1="175.23" y1="575.00" x2="175.23" y2="573.40" stroke="#444" stroke-width="0.9" />
<line x1="175.23" y1="438.60" x2="175.23" y2="440.20" stroke="#444" stroke-width="0.9" />
<text x="175.23" y="581.60" font-size="4.6" text-anchor="middle" font-weight="normal" fill="#222" >300</text>
<line x1="198.02" y1="575.00" x2="198.02" y2="573.40" stroke="#444" stroke-width="0.9" />
<line x1="198.02" y1="438.60" x2="198.02" y2="440.20" stroke="#444" stroke-width="0.9" />
<text x="198.02" y="581.60" font-size="4.6" text-anchor="middle" font-weight="normal" fill="#222" >350</text>
<line x1="220.81" y1="575.00" x2="220.81" y2="573.40" stroke="#444" stroke-width="0.9" />
<line x1="220.81" y1="438.60" x2="220.81" y2="440.20" stroke="#444" stroke-width="0.9" />
<text x="220.81" y="581.60" font-size="4.6" text-anchor="middle" font-weight="normal" fill="#222" >400</text>
<line x1="243.60" y1="575.00" x2="243.60" y2="573.40" stroke="#444" stroke-width="0.9" />
<line x1="243.60" y1="438.60" x2="243.60" y2="440.20" stroke="#444" stroke-width="0.9" />
<text x="243.60" y="581.60" font-size="4.6" text-anchor="middle" font-weight="normal" fill="#222" >450</text>
<circle cx="47.30" cy="556.80" r="1.2"/>
<circle cx="63.50" cy="529.70" r="1.2"/>
<circle cx="63.50" cy="563.20" r="1.2"/>
<circle cx="79.20" cy="565.60" r="1.2"/>
<circle cx="93.40" cy="526.50" r="1.2"/>
<circle cx="93.40" cy="559.00" r="1.2"/>
<circle cx="93.40" cy="560.60" r="1.2"/>
<circle cx="95.80" cy="535.00" r="1.2"/>
<circle cx="97.80" cy="470.30" r="1.2"/>
<circle cx="97.80" cy="503.00" r="1.2"/>
<circle cx="97.80" cy="525.30" r="1.2"/>
<circle cx="99.80" cy="518.80" r="1.2"/>
<circle cx="101.80" cy="537.80" r="1.2"/>
<circle cx="101.80" cy="551.10" r="1.2"/>
<circle cx="105.90" cy="551.10" r="1.2"/>
<circle cx="107.10" cy="465.50" r="1.2"/>
<circle cx="107.10" cy="525.30" r="1.2"/>
<circle cx="111.50" cy="505.90" r="1.2"/>
<circle cx="116.00" cy="504.30" r="1.2"/>
<circle cx="120.00" cy="504.30" r="1.2"/>
<circle cx="122.80" cy="482.00" r="1.2"/>
<circle cx="125.70" cy="553.50" r="1.2"/>
<circle cx="130.10" cy="565.60" r="1.2"/>
<circle cx="131.70" cy="454.60" r="1.2"/>
<circle cx="131.70" cy="524.90" r="1.2"/>
<circle cx="133.00" cy="537.80" r="1.2"/>
<circle cx="141.80" cy="459.80" r="1.2"/>
<circle cx="143.00" cy="482.00" r="1.2"/>
<circle cx="143.00" cy="505.90" r="1.2"/>
<circle cx="143.00" cy="547.50" r="1.2"/>
<circle cx="161.60" cy="483.30" r="1.2"/>
<circle cx="163.60" cy="485.30" r="1.2"/>
<circle cx="168.50" cy="458.20" r="1.2"/>
<circle cx="170.50" cy="500.60" r="1.2"/>
<circle cx="174.50" cy="536.20" r="1.2"/>
<circle cx="179.40" cy="505.50" r="1.2"/>
<circle cx="180.60" cy="527.70" r="1.2"/>
<circle cx="193.10" cy="526.90" r="1.2"/>
<circle cx="220.60" cy="456.20" r="1.2"/>
<circle cx="220.60" cy="473.20" r="1.2"/>
<line x1="38.50" y1="573.60" x2="39.50" y2="573.60" stroke="#999" stroke-width="0.7" />
<line x1="242.60" y1="573.60" x2="243.60" y2="573.60" stroke="#999" stroke-width="0.7" />
<line x1="38.50" y1="569.95" x2="39.50" y2="569.95" stroke="#999" stroke-width="0.7" />
<line x1="242.60" y1="569.95" x2="243.60" y2="569.95" stroke="#999" stroke-width="0.7" />
<line x1="38.50" y1="562.65" x2="39.50" y2="562.65" stroke="#999" stroke-width="0.7" />
<line x1="242.60" y1="562.65" x2="243.60" y2="562.65" stroke="#999" stroke-width="0.7" />
<line x1="38.50" y1="559.00" x2="39.50" y2="559.00" stroke="#999" stroke-width="0.7" />
<line x1="242.60" y1="559.00" x2="243.60" y2="559.00" stroke="#999" stroke-width="0.7" />
<line x1="38.50" y1="555.36" x2="39.50" y2="555.36" stroke="#999" stroke-width="0.7" />
<line x1="242.60" y1="555.36" x2="243.60" y2="555.36" stroke="#999" stroke-width="0.7" />
<line x1="38.50" y1="551.71" x2="39.50" y2="551.71" stroke="#999" stroke-width="0.7" />
<line x1="242.60" y1="551.71" x2="243.60" y2="551.71" stroke="#999" stroke-width="0.7" />
<line x1="38.50" y1="544.41" x2="39.50" y2="544.41" stroke="#999" stroke-width="0.7" />
<line x1="242.60" y1="544.41" x2="243.60" y2="544.41" stroke="#999" stroke-width="0.7" />
<line x1="38.50" y1="540.76" x2="39.50" y2="540.76" stroke="#999" stroke-width="0.7" />
<line x1="242.60" y1="540.76" x2="243.60" y2="540.76" stroke="#999" stroke-width="0.7" />
<line x1="38.50" y1="537.12" x2="39.50" y2="537.12" stroke="#999" stroke-width="0.7" />
<line x1="242.60" y1="537.12" x2="243.60" y2="537.12" stroke="#999" stroke-width="0.7" />
<line x1="38.50" y1="533.47" x2="39.50" y2="533.47" stroke="#999" stroke-width="0.7" />
<line x1="242.60" y1="533.47" x2="243.60" y2="533.47" stroke="#999" stroke-width="0.7" />
<line x1="38.50" y1="526.17" x2="39.50" y2="526.17" stroke="#999" stroke-width="0.7" />
<line x1="242.60" y1="526.17" x2="243.60" y2="526.17" stroke="#999" stroke-width="0.7" />
<line x1="38.50" y1="522.52" x2="39.50" y2="522.52" stroke="#999" stroke-width="0.7" />
<line x1="242.60" y1="522.52" x2="243.60" y2="522.52" stroke="#999" stroke-width="0.7" />
<line x1="38.50" y1="518.88" x2="39.50" y2="518.88" stroke="#999" stroke-width="0.7" />
<line x1="242.60" y1="518.88" x2="243.60" y2="518.88" stroke="#999" stroke-width="0.7" />
<line x1="38.50" y1="515.23" x2="39.50" y2="515.23" stroke="#999" stroke-width="0.7" />
<line x1="242.60" y1="515.23" x2="243.60" y2="515.23" stroke="#999" stroke-width="0.7" />
<line x1="38.50" y1="507.93" x2="39.50" y2="507.93" stroke="#999" stroke-width="0.7" />
<line x1="242.60" y1="507.93" x2="243.60" y2="507.93" stroke="#999" stroke-width="0.7" />
<line x1="38.50" y1="504.28" x2="39.50" y2="504.28" stroke="#999" stroke-width="0.7" />
<line x1="242.60" y1="504.28" x2="243.60" y2="504.28" stroke="#999" stroke-width="0.7" />
<line x1="38.50" y1="500.64" x2="39.50" y2="500.64" stroke="#999" stroke-width="0.7" />
<line x1="242.60" y1="500.64" x2="243.60" y2="500.64" stroke="#999" stroke-width="0.7" />
<line x1="38.50" y1="496.99" x2="39.50" y2="496.99" stroke="#999" stroke-width="0.7" />
<line x1="242.60" y1="496.99" x2="243.60" y2="496.99" stroke="#999" stroke-width="0.7" />
<line x1="38.50" y1="489.69" x2="39.50" y2="489.69" stroke="#999" stroke-width="0.7" />
<line x1="242.60" y1="489.69" x2="243.60" y2="489.69" stroke="#999" stroke-width="0.7" />
<line x1="38.50" y1="486.04" x2="39.50" y2="486.04" stroke="#999" stroke-width="0.7" />
<line x1="242.60" y1="486.04" x2="243.60" y2="486.04" stroke="#999" stroke-width="0.7" />
<line x1="38.50" y1="482.40" x2="39.50" y2="482.40" stroke="#999" stroke-width="0.7" />
<line x1="242.60" y1="482.40" x2="243.60" y2="482.40" stroke="#999" stroke-width="0.7" />
<line x1="38.50" y1="478.75" x2="39.50" y2="478.75" stroke="#999" stroke-width="0.7" />
<line x1="242.60" y1="478.75" x2="243.60" y2="478.75" stroke="#999" stroke-width="0.7" />
<line x1="38.50" y1="471.45" x2="39.50" y2="471.45" stroke="#999" stroke-width="0.7" />
<line x1="242.60" y1="471.45" x2="243.60" y2="471.45" stroke="#999" stroke-width="0.7" />
<line x1="38.50" y1="467.80" x2="39.50" y2="467.80" stroke="#999" stroke-width="0.7" />
<line x1="242.60" y1="467.80" x2="243.60" y2="467.80" stroke="#999" stroke-width="0.7" />
<line x1="38.50" y1="464.16" x2="39.50" y2="464.16" stroke="#999" stroke-width="0.7" />
<line x1="242.60" y1="464.16" x2="243.60" y2="464.16" stroke="#999" stroke-width="0.7" />
<line x1="38.50" y1="460.51" x2="39.50" y2="460.51" stroke="#999" stroke-width="0.7" />
<line x1="242.60" y1="460.51" x2="243.60" y2="460.51" stroke="#999" stroke-width="0.7" />
<line x1="38.50" y1="453.21" x2="39.50" y2="453.21" stroke="#999" stroke-width="0.7" />
<line x1="242.60" y1="453.21" x2="243.60" y2="453.21" stroke="#999" stroke-width="0.7" />
<line x1="38.50" y1="449.56" x2="39.50" y2="449.56" stroke="#999" stroke-width="0.7" />
<line x1="242.60" y1="449.56" x2="243.60" y2="449.56" stroke="#999" stroke-width="0.7" />
<line x1="38.50" y1="445.92" x2="39.50" y2="445.92" stroke="#999" stroke-width="0.7" />
<line x1="242.60" y1="445.92" x2="243.60" y2="445.92" stroke="#999" stroke-width="0.7" />
<line x1="38.50" y1="442.27" x2="39.50" y2="442.27" stroke="#999" stroke-width="0.7" />
<line x1="242.60" y1="442.27" x2="243.60" y2="442.27" stroke="#999" stroke-width="0.7" />
<line x1="43.06" y1="575.00" x2="43.06" y2="574.00" stroke="#999" stroke-width="0.7" />
<line x1="43.06" y1="438.60" x2="43.06" y2="439.60" stroke="#999" stroke-width="0.7" />
<line x1="47.62" y1="575.00" x2="47.62" y2="574.00" stroke="#999" stroke-width="0.7" />
<line x1="47.62" y1="438.60" x2="47.62" y2="439.60" stroke="#999" stroke-width="0.7" />
<line x1="52.17" y1="575.00" x2="52.17" y2="574.00" stroke="#999" stroke-width="0.7" />
<line x1="52.17" y1="438.60" x2="52.17" y2="439.60" stroke="#999" stroke-width="0.7" />
<line x1="56.73" y1="575.00" x2="56.73" y2="574.00" stroke="#999" stroke-width="0.7" />
<line x1="56.73" y1="438.60" x2="56.73" y2="439.60" stroke="#999" stroke-width="0.7" />
<line x1="65.85" y1="575.00" x2="65.85" y2="574.00" stroke="#999" stroke-width="0.7" />
<line x1="65.85" y1="438.60" x2="65.85" y2="439.60" stroke="#999" stroke-width="0.7" />
<line x1="70.40" y1="575.00" x2="70.40" y2="574.00" stroke="#999" stroke-width="0.7" />
<line x1="70.40" y1="438.60" x2="70.40" y2="439.60" stroke="#999" stroke-width="0.7" />
<line x1="74.96" y1="575.00" x2="74.96" y2="574.00" stroke="#999" stroke-width="0.7" />
<line x1="74.96" y1="438.60" x2="74.96" y2="439.60" stroke="#999" stroke-width="0.7" />
<line x1="79.52" y1="575.00" x2="79.52" y2="574.00" stroke="#999" stroke-width="0.7" />
<line x1="79.52" y1="438.60" x2="79.52" y2="439.60" stroke="#999" stroke-width="0.7" />
<line x1="88.64" y1="575.00" x2="88.64" y2="574.00" stroke="#999" stroke-width="0.7" />
<line x1="88.64" y1="438.60" x2="88.64" y2="439.60" stroke="#999" stroke-width="0.7" />
<line x1="93.19" y1="575.00" x2="93.19" y2="574.00" stroke="#999" stroke-width="0.7" />
<line x1="93.19" y1="438.60" x2="93.19" y2="439.60" stroke="#999" stroke-width="0.7" />
<line x1="97.75" y1="575.00" x2="97.75" y2="574.00" stroke="#999" stroke-width="0.7" />
<line x1="97.75" y1="438.60" x2="97.75" y2="439.60" stroke="#999" stroke-width="0.7" />
<line x1="102.31" y1="575.00" x2="102.31" y2="574.00" stroke="#999" stroke-width="0.7" />
<line x1="102.31" y1="438.60" x2="102.31" y2="439.60" stroke="#999" stroke-width="0.7" />
<line x1="111.42" y1="575.00" x2="111.42" y2="574.00" stroke="#999" stroke-width="0.7" />
<line x1="111.42" y1="438.60" x2="111.42" y2="439.60" stroke="#999" stroke-width="0.7" />
<line x1="115.98" y1="575.00" x2="115.98" y2="574.00" stroke="#999" stroke-width="0.7" />
<line x1="115.98" y1="438.60" x2="115.98" y2="439.60" stroke="#999" stroke-width="0.7" />
<line x1="120.54" y1="575.00" x2="120.54" y2="574.00" stroke="#999" stroke-width="0.7" />
<line x1="120.54" y1="438.60" x2="120.54" y2="439.60" stroke="#999" stroke-width="0.7" />
<line x1="125.10" y1="575.00" x2="125.10" y2="574.00" stroke="#999" stroke-width="0.7" />
<line x1="125.10" y1="438.60" x2="125.10" y2="439.60" stroke="#999" stroke-width="0.7" />
<line x1="134.21" y1="575.00" x2="134.21" y2="574.00" stroke="#999" stroke-width="0.7" />
<line x1="134.21" y1="438.60" x2="134.21" y2="439.60" stroke="#999" stroke-width="0.7" />
<line x1="138.77" y1="575.00" x2="138.77" y2="574.00" stroke="#999" stroke-width="0.7" />
<line x1="138.77" y1="438.60" x2="138.77" y2="439.60" stroke="#999" stroke-width="0.7" />
<line x1="143.33" y1="575.00" x2="143.33" y2="574.00" stroke="#999" stroke-width="0.7" />
<line x1="143.33" y1="438.60" x2="143.33" y2="439.60" stroke="#999" stroke-width="0.7" />
<line x1="147.89" y1="575.00" x2="147.89" y2="574.00" stroke="#999" stroke-width="0.7" />
<line x1="147.89" y1="438.60" x2="147.89" y2="439.60" stroke="#999" stroke-width="0.7" />
<line x1="157.00" y1="575.00" x2="157.00" y2="574.00" stroke="#999" stroke-width="0.7" />
<line x1="157.00" y1="438.60" x2="157.00" y2="439.60" stroke="#999" stroke-width="0.7" />
<line x1="161.56" y1="575.00" x2="161.56" y2="574.00" stroke="#999" stroke-width="0.7" />
<line x1="161.56" y1="438.60" x2="161.56" y2="439.60" stroke="#999" stroke-width="0.7" />
<line x1="166.12" y1="575.00" x2="166.12" y2="574.00" stroke="#999" stroke-width="0.7" />
<line x1="166.12" y1="438.60" x2="166.12" y2="439.60" stroke="#999" stroke-width="0.7" />
<line x1="170.68" y1="575.00" x2="170.68" y2="574.00" stroke="#999" stroke-width="0.7" />
<line x1="170.68" y1="438.60" x2="170.68" y2="439.60" stroke="#999" stroke-width="0.7" />
<line x1="179.79" y1="575.00" x2="179.79" y2="574.00" stroke="#999" stroke-width="0.7" />
<line x1="179.79" y1="438.60" x2="179.79" y2="439.60" stroke="#999" stroke-width="0.7" />
<line x1="184.35" y1="575.00" x2="184.35" y2="574.00" stroke="#999" stroke-width="0.7" />
<line x1="184.35" y1="438.60" x2="184.35" y2="439.60" stroke="#999" stroke-width="0.7" />
<line x1="188.91" y1="575.00" x2="188.91" y2="574.00" stroke="#999" stroke-width="0.7" />
<line x1="188.91" y1="438.60" x2="188.91" y2="439.60" stroke="#999" stroke-width="0.7" />
<line x1="193.46" y1="575.00" x2="193.46" y2="574.00" stroke="#999" stroke-width="0.7" />
<line x1="193.46" y1="438.60" x2="193.46" y2="439.60" stroke="#999" stroke-width="0.7" />
<line x1="202.58" y1="575.00" x2="202.58" y2="574.00" stroke="#999" stroke-width="0.7" />
<line x1="202.58" y1="438.60" x2="202.58" y2="439.60" stroke="#999" stroke-width="0.7" />
<line x1="207.14" y1="575.00" x2="207.14" y2="574.00" stroke="#999" stroke-width="0.7" />
<line x1="207.14" y1="438.60" x2="207.14" y2="439.60" stroke="#999" stroke-width="0.7" />
<line x1="211.70" y1="575.00" x2="211.70" y2="574.00" stroke="#999" stroke-width="0.7" />
<line x1="211.70" y1="438.60" x2="211.70" y2="439.60" stroke="#999" stroke-width="0.7" />
<line x1="216.25" y1="575.00" x2="216.25" y2="574.00" stroke="#999" stroke-width="0.7" />
<line x1="216.25" y1="438.60" x2="216.25" y2="439.60" stroke="#999" stroke-width="0.7" />
<line x1="225.37" y1="575.00" x2="225.37" y2="574.00" stroke="#999" stroke-width="0.7" />
<line x1="225.37" y1="438.60" x2="225.37" y2="439.60" stroke="#999" stroke-width="0.7" />
<line x1="229.93" y1="575.00" x2="229.93" y2="574.00" stroke="#999" stroke-width="0.7" />
<line x1="229.93" y1="438.60" x2="229.93" y2="439.60" stroke="#999" stroke-width="0.7" />
<line x1="234.48" y1="575.00" x2="234.48" y2="574.00" stroke="#999" stroke-width="0.7" />
<line x1="234.48" y1="438.60" x2="234.48" y2="439.60" stroke="#999" stroke-width="0.7" />
<line x1="239.04" y1="575.00" x2="239.04" y2="574.00" stroke="#999" stroke-width="0.7" />
<line x1="239.04" y1="438.60" x2="239.04" y2="439.60" stroke="#999" stroke-width="0.7" />
<line x1="38.50" y1="552.20" x2="243.60" y2="466.70" stroke="#222" stroke-width="0.9" stroke-dasharray="2 1.4"/>
<text x="8.50" y="518.60" font-size="9.8" text-anchor="middle" font-weight="bold" fill="#000" transform="rotate(-90 8.50 518.60)" stroke="#000" stroke-width="0.22">% of C3+ RBCs within</text>
<text x="19.80" y="518.50" font-size="9.8" text-anchor="middle" font-weight="bold" fill="#000" transform="rotate(-90 19.80 518.50)" stroke="#000" stroke-width="0.22">PNH RBC population</text>
<text x="142.20" y="597.10" font-size="9.8" text-anchor="middle" font-weight="bold" fill="#000" stroke="#000" stroke-width="0.22">Absolute reticulocyte count</text>
<text x="142.20" y="608.30" font-size="9.8" text-anchor="middle" font-weight="bold" fill="#000" stroke="#000" stroke-width="0.22">(during treatment)</text>
<rect x="310.30" y="438.40" width="203.00" height="136.20" fill="none" stroke="#6a6a6a" stroke-width="1.3"/>
<line x1="310.30" y1="565.10" x2="311.90" y2="565.10" stroke="#444" stroke-width="0.9" />
<line x1="511.70" y1="565.10" x2="513.30" y2="565.10" stroke="#444" stroke-width="0.9" />
<text x="307.90" y="566.70" font-size="4.6" text-anchor="end" font-weight="normal" fill="#222" >0</text>
<line x1="310.30" y1="546.90" x2="311.90" y2="546.90" stroke="#444" stroke-width="0.9" />
<line x1="511.70" y1="546.90" x2="513.30" y2="546.90" stroke="#444" stroke-width="0.9" />
<text x="307.90" y="548.50" font-size="4.6" text-anchor="end" font-weight="normal" fill="#222" >10</text>
<line x1="310.30" y1="528.70" x2="311.90" y2="528.70" stroke="#444" stroke-width="0.9" />
<line x1="511.70" y1="528.70" x2="513.30" y2="528.70" stroke="#444" stroke-width="0.9" />
<text x="307.90" y="530.30" font-size="4.6" text-anchor="end" font-weight="normal" fill="#222" >20</text>
<line x1="310.30" y1="510.50" x2="311.90" y2="510.50" stroke="#444" stroke-width="0.9" />
<line x1="511.70" y1="510.50" x2="513.30" y2="510.50" stroke="#444" stroke-width="0.9" />
<text x="307.90" y="512.10" font-size="4.6" text-anchor="end" font-weight="normal" fill="#222" >30</text>
<line x1="310.30" y1="492.30" x2="311.90" y2="492.30" stroke="#444" stroke-width="0.9" />
<line x1="511.70" y1="492.30" x2="513.30" y2="492.30" stroke="#444" stroke-width="0.9" />
<text x="307.90" y="493.90" font-size="4.6" text-anchor="end" font-weight="normal" fill="#222" >40</text>
<line x1="310.30" y1="474.10" x2="311.90" y2="474.10" stroke="#444" stroke-width="0.9" />
<line x1="511.70" y1="474.10" x2="513.30" y2="474.10" stroke="#444" stroke-width="0.9" />
<text x="307.90" y="475.70" font-size="4.6" text-anchor="end" font-weight="normal" fill="#222" >50</text>
<line x1="310.30" y1="455.90" x2="311.90" y2="455.90" stroke="#444" stroke-width="0.9" />
<line x1="511.70" y1="455.90" x2="513.30" y2="455.90" stroke="#444" stroke-width="0.9" />
<text x="307.90" y="457.50" font-size="4.6" text-anchor="end" font-weight="normal" fill="#222" >60</text>
<line x1="310.30" y1="437.70" x2="311.90" y2="437.70" stroke="#444" stroke-width="0.9" />
<line x1="511.70" y1="437.70" x2="513.30" y2="437.70" stroke="#444" stroke-width="0.9" />
<text x="307.90" y="439.30" font-size="4.6" text-anchor="end" font-weight="normal" fill="#222" >70</text>
<line x1="310.30" y1="574.60" x2="310.30" y2="573.00" stroke="#444" stroke-width="0.9" />
<line x1="310.30" y1="438.40" x2="310.30" y2="440.00" stroke="#444" stroke-width="0.9" />
<text x="310.30" y="581.20" font-size="4.6" text-anchor="middle" font-weight="normal" fill="#222" >0</text>
<line x1="335.68" y1="574.60" x2="335.68" y2="573.00" stroke="#444" stroke-width="0.9" />
<line x1="335.68" y1="438.40" x2="335.68" y2="440.00" stroke="#444" stroke-width="0.9" />
<text x="335.68" y="581.20" font-size="4.6" text-anchor="middle" font-weight="normal" fill="#222" >1000</text>
<line x1="361.05" y1="574.60" x2="361.05" y2="573.00" stroke="#444" stroke-width="0.9" />
<line x1="361.05" y1="438.40" x2="361.05" y2="440.00" stroke="#444" stroke-width="0.9" />
<text x="361.05" y="581.20" font-size="4.6" text-anchor="middle" font-weight="normal" fill="#222" >2000</text>
<line x1="386.43" y1="574.60" x2="386.43" y2="573.00" stroke="#444" stroke-width="0.9" />
<line x1="386.43" y1="438.40" x2="386.43" y2="440.00" stroke="#444" stroke-width="0.9" />
<text x="386.43" y="581.20" font-size="4.6" text-anchor="middle" font-weight="normal" fill="#222" >3000</text>
<line x1="411.80" y1="574.60" x2="411.80" y2="573.00" stroke="#444" stroke-width="0.9" />
<line x1="411.80" y1="438.40" x2="411.80" y2="440.00" stroke="#444" stroke-width="0.9" />
<text x="411.80" y="581.20" font-size="4.6" text-anchor="middle" font-weight="normal" fill="#222" >4000</text>
<line x1="437.17" y1="574.60" x2="437.17" y2="573.00" stroke="#444" stroke-width="0.9" />
<line x1="437.17" y1="438.40" x2="437.17" y2="440.00" stroke="#444" stroke-width="0.9" />
<text x="437.17" y="581.20" font-size="4.6" text-anchor="middle" font-weight="normal" fill="#222" >5000</text>
<line x1="462.55" y1="574.60" x2="462.55" y2="573.00" stroke="#444" stroke-width="0.9" />
<line x1="462.55" y1="438.40" x2="462.55" y2="440.00" stroke="#444" stroke-width="0.9" />
<text x="462.55" y="581.20" font-size="4.6" text-anchor="middle" font-weight="normal" fill="#222" >6000</text>
<line x1="487.92" y1="574.60" x2="487.92" y2="573.00" stroke="#444" stroke-width="0.9" />
<line x1="487.92" y1="438.40" x2="487.92" y2="440.00" stroke="#444" stroke-width="0.9" />
<text x="487.92" y="581.20" font-size="4.6" text-anchor="middle" font-weight="normal" fill="#222" >7000</text>
<line x1="513.30" y1="574.60" x2="513.30" y2="573.00" stroke="#444" stroke-width="0.9" />
<line x1="513.30" y1="438.40" x2="513.30" y2="440.00" stroke="#444" stroke-width="0.9" />
<text x="513.30" y="581.20" font-size="4.6" text-anchor="middle" font-weight="normal" fill="#222" >8000</text>
<circle cx="322.90" cy="564.80" r="1.15"/>
<circle cx="327.40" cy="529.30" r="1.15"/>
<circle cx="328.60" cy="550.70" r="1.15"/>
<circle cx="329.40" cy="559.60" r="1.15"/>
<circle cx="336.30" cy="553.10" r="1.15"/>
<circle cx="339.90" cy="484.50" r="1.15"/>
<circle cx="340.70" cy="481.60" r="1.15"/>
<circle cx="340.70" cy="503.90" r="1.15"/>
<circle cx="341.90" cy="564.80" r="1.15"/>
<circle cx="342.70" cy="557.20" r="1.15"/>
<circle cx="343.50" cy="524.90" r="1.15"/>
<circle cx="344.30" cy="551.10" r="1.15"/>
<circle cx="346.00" cy="525.70" r="1.15"/>
<circle cx="346.40" cy="547.10" r="1.15"/>
<circle cx="346.00" cy="556.40" r="1.15"/>
<circle cx="348.40" cy="525.30" r="1.15"/>
<circle cx="348.80" cy="562.80" r="1.15"/>
<circle cx="353.20" cy="556.40" r="1.15"/>
<circle cx="355.70" cy="534.10" r="1.15"/>
<circle cx="356.90" cy="481.60" r="1.15"/>
<circle cx="358.90" cy="527.30" r="1.15"/>
<circle cx="359.30" cy="500.20" r="1.15"/>
<circle cx="359.30" cy="505.10" r="1.15"/>
<circle cx="360.10" cy="454.20" r="1.15"/>
<circle cx="360.90" cy="537.40" r="1.15"/>
<circle cx="362.50" cy="504.70" r="1.15"/>
<circle cx="363.30" cy="457.40" r="1.15"/>
<circle cx="364.50" cy="526.50" r="1.15"/>
<circle cx="367.80" cy="502.60" r="1.15"/>
<circle cx="369.00" cy="524.50" r="1.15"/>
<circle cx="369.40" cy="505.50" r="1.15"/>
<circle cx="370.60" cy="503.40" r="1.15"/>
<circle cx="371.80" cy="518.80" r="1.15"/>
<circle cx="375.00" cy="469.90" r="1.15"/>
<circle cx="397.30" cy="482.80" r="1.15"/>
<circle cx="409.40" cy="536.60" r="1.15"/>
<circle cx="410.60" cy="535.40" r="1.15"/>
<circle cx="416.20" cy="456.20" r="1.15"/>
<circle cx="444.90" cy="465.50" r="1.15"/>
<circle cx="476.80" cy="472.80" r="1.15"/>
<circle cx="492.80" cy="459.80" r="1.15"/>
<line x1="310.30" y1="572.38" x2="311.30" y2="572.38" stroke="#999" stroke-width="0.7" />
<line x1="512.30" y1="572.38" x2="513.30" y2="572.38" stroke="#999" stroke-width="0.7" />
<line x1="310.30" y1="568.74" x2="311.30" y2="568.74" stroke="#999" stroke-width="0.7" />
<line x1="512.30" y1="568.74" x2="513.30" y2="568.74" stroke="#999" stroke-width="0.7" />
<line x1="310.30" y1="561.46" x2="311.30" y2="561.46" stroke="#999" stroke-width="0.7" />
<line x1="512.30" y1="561.46" x2="513.30" y2="561.46" stroke="#999" stroke-width="0.7" />
<line x1="310.30" y1="557.82" x2="311.30" y2="557.82" stroke="#999" stroke-width="0.7" />
<line x1="512.30" y1="557.82" x2="513.30" y2="557.82" stroke="#999" stroke-width="0.7" />
<line x1="310.30" y1="554.18" x2="311.30" y2="554.18" stroke="#999" stroke-width="0.7" />
<line x1="512.30" y1="554.18" x2="513.30" y2="554.18" stroke="#999" stroke-width="0.7" />
<line x1="310.30" y1="550.54" x2="311.30" y2="550.54" stroke="#999" stroke-width="0.7" />
<line x1="512.30" y1="550.54" x2="513.30" y2="550.54" stroke="#999" stroke-width="0.7" />
<line x1="310.30" y1="543.26" x2="311.30" y2="543.26" stroke="#999" stroke-width="0.7" />
<line x1="512.30" y1="543.26" x2="513.30" y2="543.26" stroke="#999" stroke-width="0.7" />
<line x1="310.30" y1="539.62" x2="311.30" y2="539.62" stroke="#999" stroke-width="0.7" />
<line x1="512.30" y1="539.62" x2="513.30" y2="539.62" stroke="#999" stroke-width="0.7" />
<line x1="310.30" y1="535.98" x2="311.30" y2="535.98" stroke="#999" stroke-width="0.7" />
<line x1="512.30" y1="535.98" x2="513.30" y2="535.98" stroke="#999" stroke-width="0.7" />
<line x1="310.30" y1="532.34" x2="311.30" y2="532.34" stroke="#999" stroke-width="0.7" />
<line x1="512.30" y1="532.34" x2="513.30" y2="532.34" stroke="#999" stroke-width="0.7" />
<line x1="310.30" y1="525.06" x2="311.30" y2="525.06" stroke="#999" stroke-width="0.7" />
<line x1="512.30" y1="525.06" x2="513.30" y2="525.06" stroke="#999" stroke-width="0.7" />
<line x1="310.30" y1="521.42" x2="311.30" y2="521.42" stroke="#999" stroke-width="0.7" />
<line x1="512.30" y1="521.42" x2="513.30" y2="521.42" stroke="#999" stroke-width="0.7" />
<line x1="310.30" y1="517.78" x2="311.30" y2="517.78" stroke="#999" stroke-width="0.7" />
<line x1="512.30" y1="517.78" x2="513.30" y2="517.78" stroke="#999" stroke-width="0.7" />
<line x1="310.30" y1="514.14" x2="311.30" y2="514.14" stroke="#999" stroke-width="0.7" />
<line x1="512.30" y1="514.14" x2="513.30" y2="514.14" stroke="#999" stroke-width="0.7" />
<line x1="310.30" y1="506.86" x2="311.30" y2="506.86" stroke="#999" stroke-width="0.7" />
<line x1="512.30" y1="506.86" x2="513.30" y2="506.86" stroke="#999" stroke-width="0.7" />
<line x1="310.30" y1="503.22" x2="311.30" y2="503.22" stroke="#999" stroke-width="0.7" />
<line x1="512.30" y1="503.22" x2="513.30" y2="503.22" stroke="#999" stroke-width="0.7" />
<line x1="310.30" y1="499.58" x2="311.30" y2="499.58" stroke="#999" stroke-width="0.7" />
<line x1="512.30" y1="499.58" x2="513.30" y2="499.58" stroke="#999" stroke-width="0.7" />
<line x1="310.30" y1="495.94" x2="311.30" y2="495.94" stroke="#999" stroke-width="0.7" />
<line x1="512.30" y1="495.94" x2="513.30" y2="495.94" stroke="#999" stroke-width="0.7" />
<line x1="310.30" y1="488.66" x2="311.30" y2="488.66" stroke="#999" stroke-width="0.7" />
<line x1="512.30" y1="488.66" x2="513.30" y2="488.66" stroke="#999" stroke-width="0.7" />
<line x1="310.30" y1="485.02" x2="311.30" y2="485.02" stroke="#999" stroke-width="0.7" />
<line x1="512.30" y1="485.02" x2="513.30" y2="485.02" stroke="#999" stroke-width="0.7" />
<line x1="310.30" y1="481.38" x2="311.30" y2="481.38" stroke="#999" stroke-width="0.7" />
<line x1="512.30" y1="481.38" x2="513.30" y2="481.38" stroke="#999" stroke-width="0.7" />
<line x1="310.30" y1="477.74" x2="311.30" y2="477.74" stroke="#999" stroke-width="0.7" />
<line x1="512.30" y1="477.74" x2="513.30" y2="477.74" stroke="#999" stroke-width="0.7" />
<line x1="310.30" y1="470.46" x2="311.30" y2="470.46" stroke="#999" stroke-width="0.7" />
<line x1="512.30" y1="470.46" x2="513.30" y2="470.46" stroke="#999" stroke-width="0.7" />
<line x1="310.30" y1="466.82" x2="311.30" y2="466.82" stroke="#999" stroke-width="0.7" />
<line x1="512.30" y1="466.82" x2="513.30" y2="466.82" stroke="#999" stroke-width="0.7" />
<line x1="310.30" y1="463.18" x2="311.30" y2="463.18" stroke="#999" stroke-width="0.7" />
<line x1="512.30" y1="463.18" x2="513.30" y2="463.18" stroke="#999" stroke-width="0.7" />
<line x1="310.30" y1="459.54" x2="311.30" y2="459.54" stroke="#999" stroke-width="0.7" />
<line x1="512.30" y1="459.54" x2="513.30" y2="459.54" stroke="#999" stroke-width="0.7" />
<line x1="310.30" y1="452.26" x2="311.30" y2="452.26" stroke="#999" stroke-width="0.7" />
<line x1="512.30" y1="452.26" x2="513.30" y2="452.26" stroke="#999" stroke-width="0.7" />
<line x1="310.30" y1="448.62" x2="311.30" y2="448.62" stroke="#999" stroke-width="0.7" />
<line x1="512.30" y1="448.62" x2="513.30" y2="448.62" stroke="#999" stroke-width="0.7" />
<line x1="310.30" y1="444.98" x2="311.30" y2="444.98" stroke="#999" stroke-width="0.7" />
<line x1="512.30" y1="444.98" x2="513.30" y2="444.98" stroke="#999" stroke-width="0.7" />
<line x1="310.30" y1="441.34" x2="311.30" y2="441.34" stroke="#999" stroke-width="0.7" />
<line x1="512.30" y1="441.34" x2="513.30" y2="441.34" stroke="#999" stroke-width="0.7" />
<line x1="315.38" y1="574.60" x2="315.38" y2="573.60" stroke="#999" stroke-width="0.7" />
<line x1="315.38" y1="438.40" x2="315.38" y2="439.40" stroke="#999" stroke-width="0.7" />
<line x1="320.45" y1="574.60" x2="320.45" y2="573.60" stroke="#999" stroke-width="0.7" />
<line x1="320.45" y1="438.40" x2="320.45" y2="439.40" stroke="#999" stroke-width="0.7" />
<line x1="325.53" y1="574.60" x2="325.53" y2="573.60" stroke="#999" stroke-width="0.7" />
<line x1="325.53" y1="438.40" x2="325.53" y2="439.40" stroke="#999" stroke-width="0.7" />
<line x1="330.60" y1="574.60" x2="330.60" y2="573.60" stroke="#999" stroke-width="0.7" />
<line x1="330.60" y1="438.40" x2="330.60" y2="439.40" stroke="#999" stroke-width="0.7" />
<line x1="340.75" y1="574.60" x2="340.75" y2="573.60" stroke="#999" stroke-width="0.7" />
<line x1="340.75" y1="438.40" x2="340.75" y2="439.40" stroke="#999" stroke-width="0.7" />
<line x1="345.82" y1="574.60" x2="345.82" y2="573.60" stroke="#999" stroke-width="0.7" />
<line x1="345.82" y1="438.40" x2="345.82" y2="439.40" stroke="#999" stroke-width="0.7" />
<line x1="350.90" y1="574.60" x2="350.90" y2="573.60" stroke="#999" stroke-width="0.7" />
<line x1="350.90" y1="438.40" x2="350.90" y2="439.40" stroke="#999" stroke-width="0.7" />
<line x1="355.98" y1="574.60" x2="355.98" y2="573.60" stroke="#999" stroke-width="0.7" />
<line x1="355.98" y1="438.40" x2="355.98" y2="439.40" stroke="#999" stroke-width="0.7" />
<line x1="366.12" y1="574.60" x2="366.12" y2="573.60" stroke="#999" stroke-width="0.7" />
<line x1="366.12" y1="438.40" x2="366.12" y2="439.40" stroke="#999" stroke-width="0.7" />
<line x1="371.20" y1="574.60" x2="371.20" y2="573.60" stroke="#999" stroke-width="0.7" />
<line x1="371.20" y1="438.40" x2="371.20" y2="439.40" stroke="#999" stroke-width="0.7" />
<line x1="376.27" y1="574.60" x2="376.27" y2="573.60" stroke="#999" stroke-width="0.7" />
<line x1="376.27" y1="438.40" x2="376.27" y2="439.40" stroke="#999" stroke-width="0.7" />
<line x1="381.35" y1="574.60" x2="381.35" y2="573.60" stroke="#999" stroke-width="0.7" />
<line x1="381.35" y1="438.40" x2="381.35" y2="439.40" stroke="#999" stroke-width="0.7" />
<line x1="391.50" y1="574.60" x2="391.50" y2="573.60" stroke="#999" stroke-width="0.7" />
<line x1="391.50" y1="438.40" x2="391.50" y2="439.40" stroke="#999" stroke-width="0.7" />
<line x1="396.57" y1="574.60" x2="396.57" y2="573.60" stroke="#999" stroke-width="0.7" />
<line x1="396.57" y1="438.40" x2="396.57" y2="439.40" stroke="#999" stroke-width="0.7" />
<line x1="401.65" y1="574.60" x2="401.65" y2="573.60" stroke="#999" stroke-width="0.7" />
<line x1="401.65" y1="438.40" x2="401.65" y2="439.40" stroke="#999" stroke-width="0.7" />
<line x1="406.72" y1="574.60" x2="406.72" y2="573.60" stroke="#999" stroke-width="0.7" />
<line x1="406.72" y1="438.40" x2="406.72" y2="439.40" stroke="#999" stroke-width="0.7" />
<line x1="416.88" y1="574.60" x2="416.88" y2="573.60" stroke="#999" stroke-width="0.7" />
<line x1="416.88" y1="438.40" x2="416.88" y2="439.40" stroke="#999" stroke-width="0.7" />
<line x1="421.95" y1="574.60" x2="421.95" y2="573.60" stroke="#999" stroke-width="0.7" />
<line x1="421.95" y1="438.40" x2="421.95" y2="439.40" stroke="#999" stroke-width="0.7" />
<line x1="427.02" y1="574.60" x2="427.02" y2="573.60" stroke="#999" stroke-width="0.7" />
<line x1="427.02" y1="438.40" x2="427.02" y2="439.40" stroke="#999" stroke-width="0.7" />
<line x1="432.10" y1="574.60" x2="432.10" y2="573.60" stroke="#999" stroke-width="0.7" />
<line x1="432.10" y1="438.40" x2="432.10" y2="439.40" stroke="#999" stroke-width="0.7" />
<line x1="442.25" y1="574.60" x2="442.25" y2="573.60" stroke="#999" stroke-width="0.7" />
<line x1="442.25" y1="438.40" x2="442.25" y2="439.40" stroke="#999" stroke-width="0.7" />
<line x1="447.32" y1="574.60" x2="447.32" y2="573.60" stroke="#999" stroke-width="0.7" />
<line x1="447.32" y1="438.40" x2="447.32" y2="439.40" stroke="#999" stroke-width="0.7" />
<line x1="452.40" y1="574.60" x2="452.40" y2="573.60" stroke="#999" stroke-width="0.7" />
<line x1="452.40" y1="438.40" x2="452.40" y2="439.40" stroke="#999" stroke-width="0.7" />
<line x1="457.48" y1="574.60" x2="457.48" y2="573.60" stroke="#999" stroke-width="0.7" />
<line x1="457.48" y1="438.40" x2="457.48" y2="439.40" stroke="#999" stroke-width="0.7" />
<line x1="467.62" y1="574.60" x2="467.62" y2="573.60" stroke="#999" stroke-width="0.7" />
<line x1="467.62" y1="438.40" x2="467.62" y2="439.40" stroke="#999" stroke-width="0.7" />
<line x1="472.70" y1="574.60" x2="472.70" y2="573.60" stroke="#999" stroke-width="0.7" />
<line x1="472.70" y1="438.40" x2="472.70" y2="439.40" stroke="#999" stroke-width="0.7" />
<line x1="477.77" y1="574.60" x2="477.77" y2="573.60" stroke="#999" stroke-width="0.7" />
<line x1="477.77" y1="438.40" x2="477.77" y2="439.40" stroke="#999" stroke-width="0.7" />
<line x1="482.85" y1="574.60" x2="482.85" y2="573.60" stroke="#999" stroke-width="0.7" />
<line x1="482.85" y1="438.40" x2="482.85" y2="439.40" stroke="#999" stroke-width="0.7" />
<line x1="493.00" y1="574.60" x2="493.00" y2="573.60" stroke="#999" stroke-width="0.7" />
<line x1="493.00" y1="438.40" x2="493.00" y2="439.40" stroke="#999" stroke-width="0.7" />
<line x1="498.07" y1="574.60" x2="498.07" y2="573.60" stroke="#999" stroke-width="0.7" />
<line x1="498.07" y1="438.40" x2="498.07" y2="439.40" stroke="#999" stroke-width="0.7" />
<line x1="503.15" y1="574.60" x2="503.15" y2="573.60" stroke="#999" stroke-width="0.7" />
<line x1="503.15" y1="438.40" x2="503.15" y2="439.40" stroke="#999" stroke-width="0.7" />
<line x1="508.22" y1="574.60" x2="508.22" y2="573.60" stroke="#999" stroke-width="0.7" />
<line x1="508.22" y1="438.40" x2="508.22" y2="439.40" stroke="#999" stroke-width="0.7" />
<line x1="310.30" y1="543.50" x2="513.30" y2="440.70" stroke="#222" stroke-width="0.9" stroke-dasharray="2 1.4"/>
<text x="277.90" y="519.60" font-size="9.8" text-anchor="middle" font-weight="bold" fill="#000" transform="rotate(-90 277.90 519.60)" stroke="#000" stroke-width="0.22">% of C3+ RBCs within</text>
<text x="288.50" y="519.60" font-size="9.8" text-anchor="middle" font-weight="bold" fill="#000" transform="rotate(-90 288.50 519.60)" stroke="#000" stroke-width="0.22">PNH RBC population</text>
<text x="415.30" y="598.10" font-size="9.8" text-anchor="middle" font-weight="bold" fill="#000" stroke="#000" stroke-width="0.22">Pre-treatment LDH</text>
</g>
</svg>
</body></html>
